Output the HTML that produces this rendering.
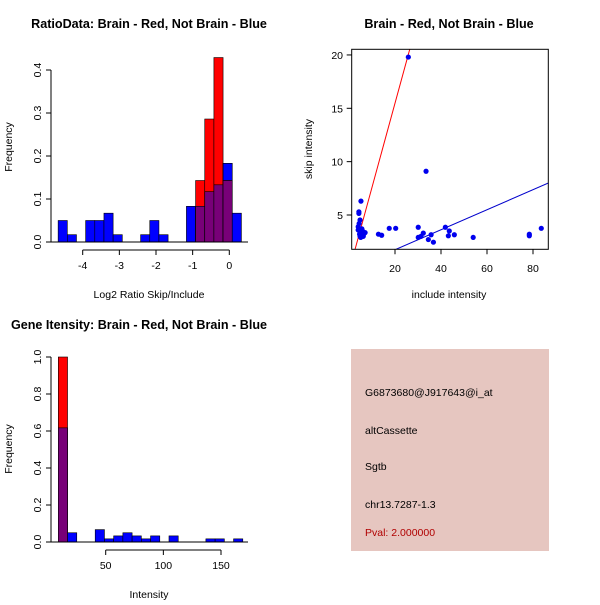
<!DOCTYPE html>
<html><head><meta charset="utf-8"><style>body{margin:0;background:#fff}svg text{font-family:"Liberation Sans",sans-serif}</style></head>
<body>
<svg id="c" width="600" height="600" xmlns="http://www.w3.org/2000/svg">
<rect width="600" height="600" fill="#fff"/>
<text x="149" y="28" font-size="12.6" font-weight="bold" text-anchor="middle">RatioData: Brain - Red, Not Brain - Blue</text>
<text x="449" y="28" font-size="12.6" font-weight="bold" text-anchor="middle">Brain - Red, Not Brain - Blue</text>
<text x="139" y="329" font-size="12.6" font-weight="bold" text-anchor="middle">Gene Itensity: Brain - Red, Not Brain - Blue</text>
<text x="149" y="298" font-size="10.5" text-anchor="middle">Log2 Ratio Skip/Include</text>
<text x="12" y="147" font-size="10.5" text-anchor="middle" transform="rotate(-90 12 147)">Frequency</text>
<text x="449" y="298" font-size="10.5" text-anchor="middle">include intensity</text>
<text x="312" y="149" font-size="10.5" text-anchor="middle" transform="rotate(-90 312 149)">skip intensity</text>
<text x="149" y="598" font-size="10.5" text-anchor="middle">Intensity</text>
<text x="12" y="449" font-size="10.5" text-anchor="middle" transform="rotate(-90 12 449)">Frequency</text>
<g>
<rect x="351" y="349" width="198" height="202" fill="#e6c6c0"/>
<text x="365" y="396" font-size="10.5">G6873680@J917643@i_at</text>
<text x="365" y="434" font-size="10.5">altCassette</text>
<text x="365" y="470" font-size="10.5">Sgtb</text>
<text x="365" y="508" font-size="10.5">chr13.7287-1.3</text>
<text x="365" y="536" font-size="10.5" fill="#b00000">Pval: 2.000000</text>
</g>
</svg>
<script>
// Ratio histogram data
const ratioBinStart = -4.67;
const ratioBinWidth = 0.25;
const ratioBlue = [0.05,0.017,0,0.05,0.05,0.067,0.017,0,0,0.017,0.05,0.017,0,0,0.083,0.083,0.117,0.133,0.183,0.067];
const ratioRed  = [0,0,0,0,0,0,0,0,0,0,0,0,0,0,0,0.143,0.286,0.429,0.143,0];
const ratioXTicks = [-4,-3,-2,-1,0];
const ratioYTicks = [0,0.1,0.2,0.3,0.4];
// Intensity histogram data
const intBinStart = 8.9;
const intBinWidth = 8;
const intBlue = [0.617,0.05,0,0,0.067,0.017,0.033,0.05,0.033,0.017,0.033,0,0.033,0,0,0,0.017,0.017,0,0.017];
const intRed  = [1.0,0,0,0,0,0,0,0,0,0,0,0,0,0,0,0,0,0,0,0];
const intXTicks = [50,100,150];
const intYTicks = [0,0.2,0.4,0.6,0.8,1.0];
// Scatter data
const scatX = [25.8,33.5,5.2,4.3,4.3,4.8,4.0,4.0,4.8,5.5,6.2,7.0,4.8,6.2,5.1,4.4,5.6,4.6,5.9,12.8,14.2,17.5,20.3,30.1,30.1,31.3,32.3,34.5,35.7,36.7,41.9,43.2,43.6,45.8,54.0,78.4,78.4,83.6];
const scatY = [19.8,9.1,6.3,5.3,5.15,4.53,3.9,3.6,3.4,3.3,3.1,3.35,3.0,3.0,2.9,4.2,3.7,3.2,3.5,3.2,3.1,3.75,3.75,3.85,2.9,3.0,3.3,2.7,3.15,2.45,3.85,3.05,3.5,3.15,2.9,3.2,3.05,3.75];
const scatXTicks = [20,40,60,80];
const scatYTicks = [5,10,15,20];
const redLine = [2.6,1.76,26.5,20.6];
const blueLine = [20.4,1.78,86.7,8.0];

const svg = document.getElementById('c');
const NS = 'http://www.w3.org/2000/svg';
function mk(tag, attrs){const e=document.createElementNS(NS,tag);for(const k in attrs)e.setAttribute(k,attrs[k]);svg.appendChild(e);return e;}

const rx = v => 229.3 + v*36.65;
const ry = v => 242 - v*430;
function hist(blue, red, start, w, fx, fy, prefix){
  for(let i=0;i<blue.length;i++){
    const x0=fx(start+i*w), x1=fx(start+(i+1)*w);
    const b=blue[i], r=red[i];
    if(b>0){const e=mk('rect',{x:x0,y:fy(b),width:x1-x0,height:fy(0)-fy(b),fill:'#0000ff',stroke:'#000','stroke-width':0.6});
      
      }
    if(r>0){const e=mk('rect',{x:x0,y:fy(r),width:x1-x0,height:fy(0)-fy(r),fill:'#ff0000',stroke:'#000','stroke-width':0.6});
      
      }
    const m=Math.min(b,r);
    if(m>0){
      if(b>r){const t=mk('rect',{x:x0,y:fy(b),width:x1-x0,height:fy(r)-fy(b),fill:'#0000ff',stroke:'#000','stroke-width':0.6});
        
        }
      const e=mk('rect',{x:x0,y:fy(m),width:x1-x0,height:fy(0)-fy(m),fill:'#780078',stroke:'#000','stroke-width':0.6});
      
      }
  }
}
function axes(xt, yt, fx, fy, xAxisY, yAxisX, prefix, fmtY){
  let a=mk('line',{x1:fx(xt[0]),x2:fx(xt[xt.length-1]),y1:xAxisY,y2:xAxisY,stroke:'#000'});
  
  
  xt.forEach(t=>{mk('line',{x1:fx(t),x2:fx(t),y1:xAxisY,y2:xAxisY+5,stroke:'#000'});
    const tx=mk('text',{x:fx(t),y:xAxisY+19,'font-size':10.5,'text-anchor':'middle'});tx.textContent=t;
    
    });
  a=mk('line',{x1:yAxisX,x2:yAxisX,y1:fy(yt[0]),y2:fy(yt[yt.length-1]),stroke:'#000'});
  
  
  yt.forEach(t=>{mk('line',{x1:yAxisX-5,x2:yAxisX,y1:fy(t),y2:fy(t),stroke:'#000'});
    const lx=yAxisX-10, ly=fy(t);
    const tx=mk('text',{x:lx,y:ly,'font-size':10.5,'text-anchor':'middle',transform:`rotate(-90 ${lx} ${ly})`});tx.textContent=fmtY(t);
    
    });
}
hist(ratioBlue, ratioRed, ratioBinStart, ratioBinWidth, rx, ry, 'ratio');
mk('line',{x1:50,x2:248,y1:242,y2:242,stroke:'#000'});
axes(ratioXTicks, ratioYTicks, rx, ry, 250, 51, 'ratio', t=>t.toFixed(1));

const ix = v => 105.7 + (v-50)*1.153;
const iy = v => 542 - v*185;
hist(intBlue, intRed, intBinStart, intBinWidth, ix, iy, 'intensity');
mk('line',{x1:50,x2:248,y1:542,y2:542,stroke:'#000'});
axes(intXTicks, intYTicks, ix, iy, 550, 51, 'intensity', t=>t.toFixed(1));

const sx = v => 349 + v*2.3;
const sy = v => 215 - (v-5)*10.67;
const clip = mk('clipPath',{id:'sc'}); const cr=document.createElementNS(NS,'rect');
cr.setAttribute('x',351.7);cr.setAttribute('y',49.3);cr.setAttribute('width',196.6);cr.setAttribute('height',200);clip.appendChild(cr);
let ln=mk('line',{x1:sx(redLine[0]),y1:sy(redLine[1]),x2:sx(redLine[2]),y2:sy(redLine[3]),stroke:'#ff0000','clip-path':'url(#sc)'});


ln=mk('line',{x1:sx(blueLine[0]),y1:sy(blueLine[1]),x2:sx(blueLine[2]),y2:sy(blueLine[3]),stroke:'#0000cc','clip-path':'url(#sc)'});


for(let i=0;i<scatX.length;i++){
  const p=mk('circle',{cx:sx(scatX[i]),cy:sy(scatY[i]),r:2.6,fill:'#0000ee'});
  
  
}
const box=mk('rect',{x:351.7,y:49.3,width:196.6,height:200,fill:'none',stroke:'#000'});


scatXTicks.forEach(t=>{mk('line',{x1:sx(t),x2:sx(t),y1:249.3,y2:254.3,stroke:'#000'});
  const tx=mk('text',{x:sx(t),y:272,'font-size':10.5,'text-anchor':'middle'});tx.textContent=t;
  
  });
scatYTicks.forEach(t=>{mk('line',{x1:346.7,x2:351.7,y1:sy(t),y2:sy(t),stroke:'#000'});
  const tx=mk('text',{x:343,y:sy(t)+4,'font-size':10.5,'text-anchor':'end'});tx.textContent=t;
  
  });
</script>
</body></html>
